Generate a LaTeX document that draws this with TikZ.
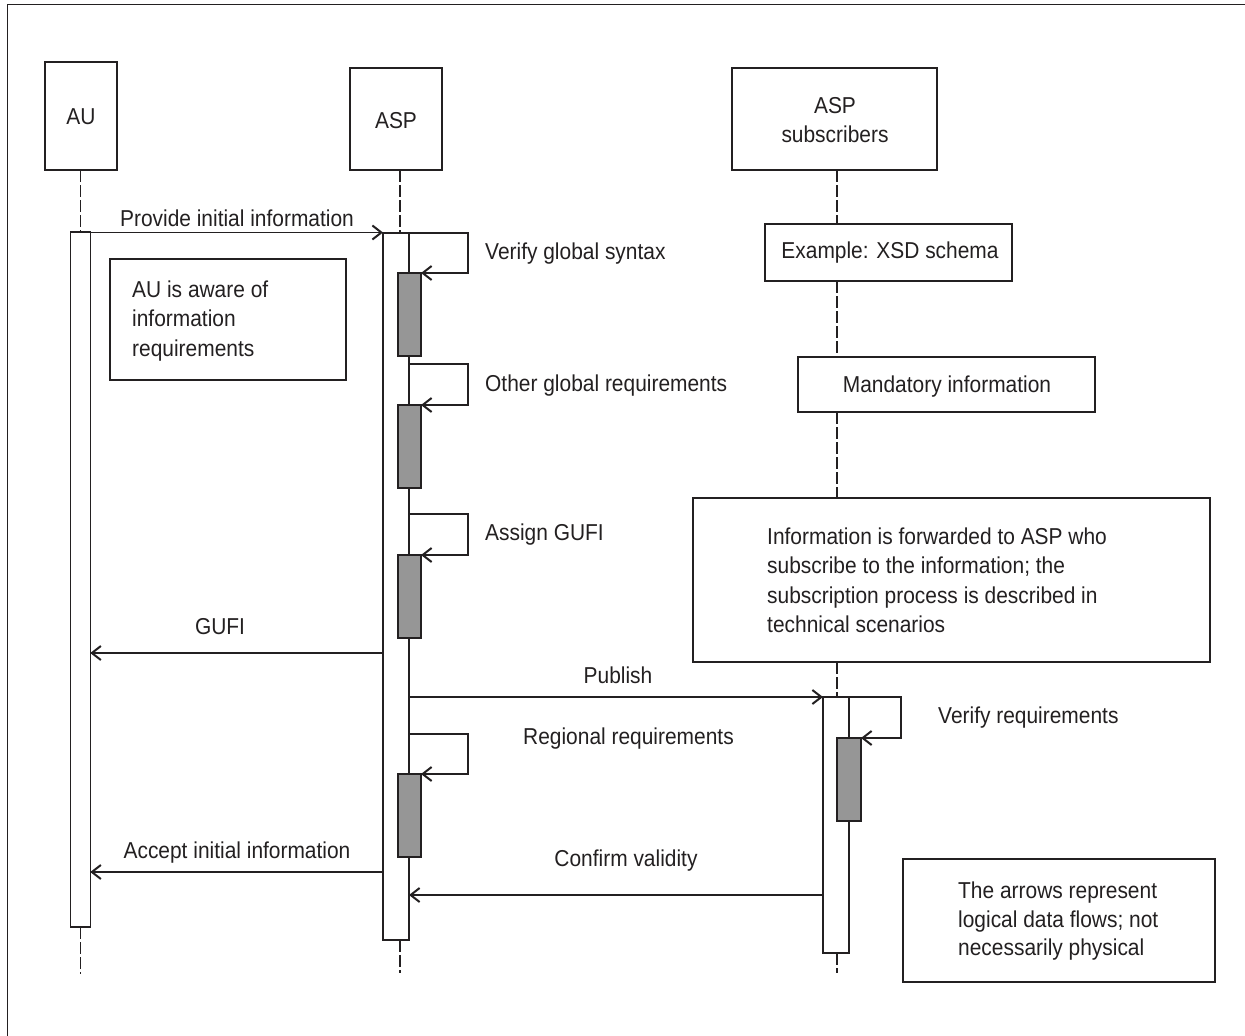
\documentclass[tikz,border=0pt]{standalone}
\usepackage{fontspec}
\setmainfont{Liberation Sans}[FakeStretch=0.91]
\usetikzlibrary{arrows.meta}
\definecolor{ink}{RGB}{35,32,33}
\definecolor{barfill}{RGB}{150,150,150}
\begin{document}
\begin{tikzpicture}[x=1pt,y=-1pt,
  every node/.style={text=ink},
  txt/.style={inner sep=0pt, font=\fontsize{23}{29.5}\selectfont},
  boxnode/.style={draw=ink, line width=1.4pt, fill=white, inner sep=0pt, outer sep=0pt},
  actbar/.style={draw=ink, line width=1.3pt, fill=white, inner sep=0pt, outer sep=0pt},
  subbar/.style={draw=ink, line width=1.3pt, fill=barfill, inner sep=0pt, outer sep=0pt},
  life/.style={draw=ink, line width=1.2pt, dash pattern=on 12pt off 3pt},
  msg/.style={draw=ink, line width=1.3pt, -{Straight Barb[length=9pt,width=14pt,line width=2pt]}},
]
\useasboundingbox (0,0) rectangle (1245,1036);
\fill[white] (0,0) rectangle (1245,1036);

% outer frame
\draw[ink, line width=1.8pt] (7.5,1040) -- (7.5,4.5) -- (1250,4.5);

% lifeline x positions
\coordinate (aul) at (80.5,0);
\coordinate (aspl) at (400,0);
\coordinate (subl) at (837,0);

% participants
\node[boxnode, minimum width=72, minimum height=108] (au) at (81,116) {};
\node[txt, anchor=base] (aut) at (81,124) {AU};
\node[boxnode, minimum width=92, minimum height=102] (asp) at (396,119) {};
\node[txt, anchor=base] (aspt) at (396,128) {ASP};
\node[boxnode, minimum width=205, minimum height=102] (sub) at (834.5,119) {};
\node[txt, anchor=base] (subt1) at (835,113) {ASP};
\node[txt, anchor=base] (subt2) at (835,142) {subscribers};

% notes on the subscriber side
\node[boxnode, minimum width=247, minimum height=57] (ex) at (888.5,252.5) {};
\node[txt, anchor=base] (ext) at (890,258) {Example: XSD schema};
\node[boxnode, minimum width=297, minimum height=55] (mand) at (946.5,384.5) {};
\node[txt, anchor=base] (mandt) at (947,392) {Mandatory information};
\node[boxnode, minimum width=517, minimum height=164] (info) at (951.5,580) {};
\node[txt, anchor=base west] (info1) at (767,544) {Information is forwarded to ASP who};
\node[txt, anchor=base west] (info2) at (767,573.5) {subscribe to the information; the};
\node[txt, anchor=base west] (info3) at (767,603) {subscription process is described in};
\node[txt, anchor=base west] (info4) at (767,632.5) {technical scenarios};

% note on the AU side
\node[boxnode, minimum width=236, minimum height=121] (aware) at (228,319.5) {};
\node[txt, anchor=base west] (aware1) at (132,297) {AU is aware of};
\node[txt, anchor=base west] (aware2) at (132,326.5) {information};
\node[txt, anchor=base west] (aware3) at (132,356) {requirements};

% legend note
\node[boxnode, minimum width=312, minimum height=123] (legend) at (1059,920.5) {};
\node[txt, anchor=base west] (leg1) at (958,898) {The arrows represent};
\node[txt, anchor=base west] (leg2) at (958,927) {logical data flows; not};
\node[txt, anchor=base west] (leg3) at (958,955.5) {necessarily physical};

% activation bars
\node[actbar, minimum width=19.5, minimum height=695] (aubar) at (80.5,579.5) {};
\node[actbar, minimum width=26, minimum height=707] (asbar) at (396,586.5) {};
\node[actbar, minimum width=26, minimum height=256] (sbar) at (836,825) {};

% nested activations
\node[subbar, minimum width=23, minimum height=83] (g1) at (409.5,314.5) {};
\node[subbar, minimum width=23, minimum height=83] (g2) at (409.5,446.5) {};
\node[subbar, minimum width=23, minimum height=83] (g3) at (409.5,596.5) {};
\node[subbar, minimum width=23, minimum height=83] (g4) at (409.5,815.5) {};
\node[subbar, minimum width=24, minimum height=83] (g5) at (849,779.5) {};

% lifelines
\draw[life] (aul |- au.south) -- (aul |- aubar.north);
\draw[life] (aul |- aubar.south) -- ++(0,47);
\draw[life] (aspl |- asp.south) -- (aspl |- asbar.north);
\draw[life] (aspl |- asbar.south) -- ++(0,33);
\draw[life] (subl |- sub.south) -- (subl |- ex.north);
\draw[life] (subl |- ex.south) -- (subl |- mand.north);
\draw[life] (subl |- mand.south) -- (subl |- info.north);
\draw[life] (subl |- info.south) -- (subl |- sbar.north);
\draw[life] (subl |- sbar.south) -- ++(0,20);

% message heights
\coordinate (m1) at (0,232.5);
\coordinate (m2) at (0,653);
\coordinate (m3) at (0,872);
\coordinate (m4) at (0,697);
\coordinate (m5) at (0,895);
\coordinate (l2) at (0,364);
\coordinate (l3) at (0,514);
\coordinate (l4) at (0,734);

% messages between lifelines
\draw[msg] (aubar.east |- m1) -- (asbar.west |- m1);
\node[txt, anchor=base] (lbl1) at (237,226) {Provide initial information};
\draw[msg] (asbar.west |- m2) -- (aubar.east |- m2);
\node[txt, anchor=base] (lbl2) at (220,634) {GUFI};
\draw[msg] (asbar.west |- m3) -- (aubar.east |- m3);
\node[txt, anchor=base] (lbl3) at (237,858) {Accept initial information};
\draw[msg] (asbar.east |- m4) -- (sbar.west |- m4);
\node[txt, anchor=base] (lbl4) at (618,683) {Publish};
\draw[msg] (sbar.west |- m5) -- (asbar.east |- m5);
\node[txt, anchor=base] (lbl5) at (626,866) {Confirm validity};

% self messages
\draw[msg] (asbar.north east) -- ++(59,0) |- (g1.north east);
\node[txt, anchor=base west] (s1) at (485,259) {Verify global syntax};
\draw[msg] (asbar.east |- l2) -- ++(59,0) |- (g2.north east);
\node[txt, anchor=base west] (s2) at (485,391) {Other global requirements};
\draw[msg] (asbar.east |- l3) -- ++(59,0) |- (g3.north east);
\node[txt, anchor=base west] (s3) at (485,540) {Assign GUFI};
\draw[msg] (asbar.east |- l4) -- ++(59,0) |- (g4.north east);
\node[txt, anchor=base] (s4) at (628.5,744) {Regional requirements};
\draw[msg] (sbar.north east) -- ++(52,0) |- (g5.north east);
\node[txt, anchor=base west] (s5) at (938,723) {Verify requirements};
\end{tikzpicture}
\end{document}
